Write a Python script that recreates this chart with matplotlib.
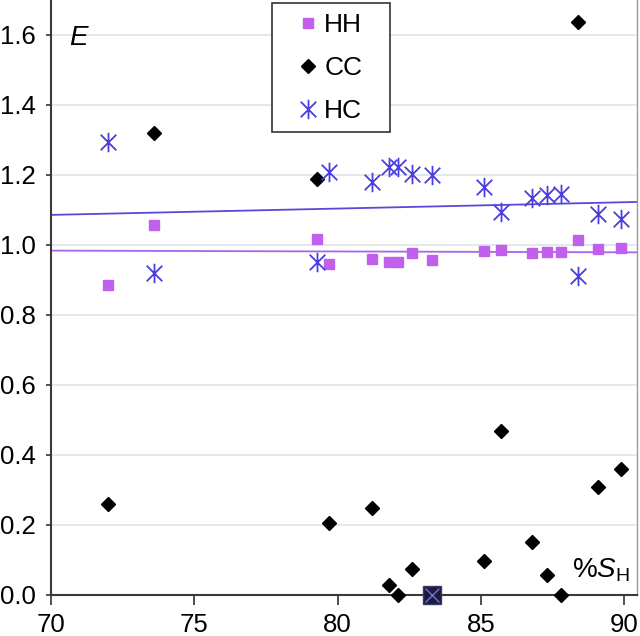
import numpy as np
import matplotlib
matplotlib.use("Agg")
import matplotlib.pyplot as plt
from matplotlib.path import Path
from matplotlib.patches import Rectangle

plt.rcParams['font.family'] = ['Liberation Sans', 'DejaVu Sans']
plt.rcParams['mathtext.fontset'] = 'custom'
plt.rcParams['mathtext.rm'] = 'Liberation Sans'
plt.rcParams['mathtext.it'] = 'Liberation Sans:italic'

x = [72.0, 73.6, 79.3, 79.7, 81.2, 81.8, 82.1, 82.6, 83.3, 85.1, 85.7, 86.8, 87.3, 87.8, 88.4, 89.1, 89.9]
hh = [0.886, 1.056, 1.016, 0.946, 0.960, 0.951, 0.951, 0.976, 0.957, 0.984, 0.987, 0.976, 0.979, 0.979, 1.014, 0.990, 0.992]
cc = [0.26, 1.321, 1.19, 0.207, 0.248, 0.029, 0.0, 0.074, 0.0, 0.097, 0.47, 0.152, 0.057, 0.0, 1.636, 0.309, 0.359]
hc = [1.295, 0.919, 0.952, 1.208, 1.181, 1.224, 1.224, 1.203, 1.200, 1.167, 1.093, 1.135, 1.143, 1.146, 0.911, 1.089, 1.074]
# overlapping marker at baseline
ovl_x = [83.3]
ovl_y = [0.0]
# trend lines as drawn in the reference (values at the x-axis ends)
trend_x = [70, 90.45]
hc_trend = [1.086, 1.123]
hh_trend = [0.984, 0.979]

xlim = (70, 90.45)
ylim = (0, 1.7)
xticks = [70, 75, 80, 85, 90]
yticks = [0.0, 0.2, 0.4, 0.6, 0.8, 1.0, 1.2, 1.4, 1.6]

star = Path([(0, -1), (0, 1), (-0.8, -0.8), (0.8, 0.8), (-0.8, 0.8), (0.8, -0.8)],
            [Path.MOVETO, Path.LINETO, Path.MOVETO, Path.LINETO, Path.MOVETO, Path.LINETO])
xmark = Path([(-0.8, -0.8), (0.8, 0.8), (-0.8, 0.8), (0.8, -0.8)],
             [Path.MOVETO, Path.LINETO, Path.MOVETO, Path.LINETO])

fig = plt.figure(figsize=(6.4, 6.36), dpi=100)
ax = fig.add_axes([51/640, 41/636, 586/640, 595/636])

for yv in yticks[1:]:
    ax.axhline(yv, color='#dce5ea', lw=1.2, zorder=0)

ax.plot(trend_x, hc_trend, color='#5a48d8', lw=1.3, zorder=1)
ax.plot(trend_x, hh_trend, color='#a866e8', lw=1.3, zorder=1)

ax.plot(x, hh, ls='none', marker='s', ms=7.5, color='#c060ec', mec='#c060ec', label='HH', zorder=3, clip_on=False)
ax.plot(x, cc, ls='none', marker='D', ms=7, color='black', label='CC', zorder=4, clip_on=False)
ax.plot(x, hc, ls='none', marker=star, ms=14, mew=1.3, color='#4a3ee0', mfc='none', label='HC', zorder=5, clip_on=False)
ax.plot(ovl_x, ovl_y, ls='none', marker='s', ms=13, color='#1c1c3a', mec='#3a3a70', zorder=6, clip_on=False)
ax.plot(ovl_x, ovl_y, ls='none', marker=xmark, ms=10, mew=1.0, color='#7070d8', mfc='none', zorder=7, clip_on=False)

ax.set_xlim(*xlim)
ax.set_ylim(*ylim)
ax.set_xticks(xticks)
ax.set_yticks(yticks)
ax.set_yticklabels([f"{v:.1f}" for v in yticks])
ax.tick_params(axis='both', labelsize=18.5, colors='#333333', labelcolor='black')
ax.tick_params(axis='x', length=7, width=1.2, pad=6, direction='out')
ax.tick_params(axis='y', length=3.5, width=1.2, pad=7.5, direction='out')

for s in ['left', 'bottom']:
    ax.spines[s].set_color('#3a3a3a')
    ax.spines[s].set_linewidth(1.5)
ax.spines['right'].set_color('#9a9a9a')
ax.spines['right'].set_linewidth(1.0)
ax.spines['top'].set_visible(False)

ax.text(70.63, 1.591, 'E', fontsize=20, style='italic', ha='left', va='center')
ax.text(90.2, 0.051, r'%$\mathit{S}_{\mathrm{H}}$', fontsize=20, ha='right', va='baseline')

# legend box
ax.add_patch(Rectangle(((271.7-51)/586, (595-132)/595), (390-271.7)/586, (132-3)/595,
                       transform=ax.transAxes, facecolor='white', edgecolor='#333333',
                       lw=1.2, zorder=8, clip_on=False))
leg = ax.legend(loc='upper left', bbox_to_anchor=((300.5-51)/586, (595-13)/595), fontsize=19,
                frameon=False, handlelength=0.6, handletextpad=0.3, labelspacing=0.72,
                borderpad=0, borderaxespad=0)
leg.set_zorder(9)

fig.savefig('out.png', dpi=100)
